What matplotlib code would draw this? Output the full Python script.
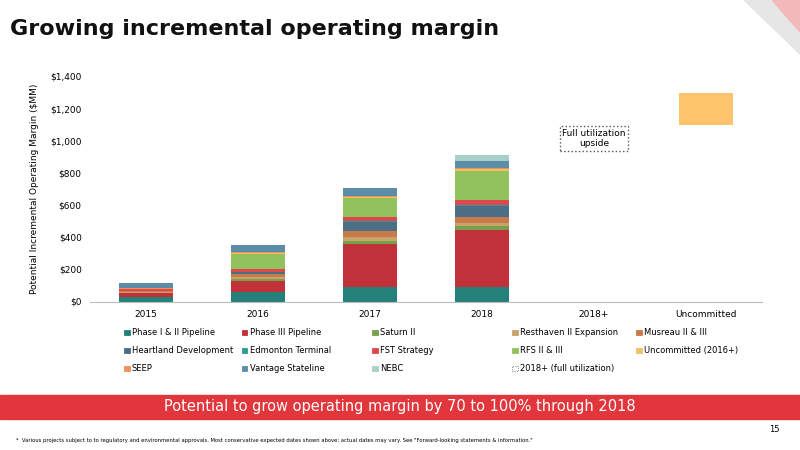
import matplotlib.pyplot as plt
import matplotlib.patches as mpatches
import numpy as np

categories = ['2015', '2016', '2017', '2018', '2018+', 'Uncommitted']
series_names = ['Phase I & II Pipeline', 'Phase III Pipeline', 'Saturn II', 'Resthaven II Expansion',
                'Musreau II & III', 'Heartland Development', 'Edmonton Terminal', 'FST Strategy',
                'RFS II & III', 'Uncommitted (2016+)', 'SEEP', 'Vantage Stateline', 'NEBC']
colors = ['#25807A', '#C0313A', '#76A04A', '#C9A36A', '#C87A4A', '#4A6E85', '#2D9C93',
          '#E0474C', '#92C25E', '#F2C06A', '#F0905A', '#5B8DA8', '#A9CFC8']
# values per series for 2015..2018 ($MM)
values = [
    [29, 62, 91, 91],
    [23, 68, 265, 354],
    [0, 12, 23, 25],
    [6, 12, 25, 21],
    [8, 20, 33, 33],
    [0, 12, 58, 70],
    [0, 0, 8, 6],
    [10, 16, 21, 31],
    [0, 91, 118, 182],
    [4, 8, 8, 10],
    [4, 8, 8, 10],
    [29, 43, 46, 41],
    [0, 0, 4, 35],
]
full_util_low = 1100
full_util_high = 1300

fig = plt.figure(figsize=(8, 4.5), dpi=100)
fig.patch.set_facecolor('white')
ax = fig.add_axes([0.1125, 0.33, 0.84, 0.5])

x = np.arange(len(categories))
bottom = np.zeros(4)
for name, vals, c in zip(series_names, values, colors):
    ax.bar(x[:4], vals, 0.49, bottom=bottom, color=c, label=name)
    bottom += np.array(vals)
ax.bar(x[5], full_util_high - full_util_low, 0.49, bottom=full_util_low, color='#FDC46C')

ax.set_ylim(0, 1400)
ax.set_xlim(-0.5, 5.5)
ax.set_yticks(range(0, 1401, 200))
ax.set_yticklabels([f'${v:,}' for v in range(0, 1401, 200)], fontsize=6.5)
ax.set_xticks(x)
ax.set_xticklabels(categories, fontsize=6.5)
ax.tick_params(length=0, pad=6)
for s in ['top', 'right', 'left']:
    ax.spines[s].set_visible(False)
ax.spines['bottom'].set_color('#BBBBBB')
ax.set_ylabel('Potential Incremental Operating Margin ($MM)', fontsize=6.5, labelpad=8)

ax.text(4.0, 1015, 'Full utilization\nupside', ha='center', va='center', fontsize=6.5,
        bbox=dict(boxstyle='square,pad=0.3', facecolor='white', edgecolor='#555555', linestyle=':'))

# legend, row-major over 5 columns
labels = series_names + ['2018+ (full utilization)']
leg_colors = colors + ['white']
col_x = [0.155, 0.302, 0.465, 0.64, 0.795]
row_y = [0.262, 0.222, 0.182]
for i, (lab, c) in enumerate(zip(labels, leg_colors)):
    cx, ry = col_x[i % 5], row_y[i // 5]
    ls = ':' if c == 'white' else '-'
    ec = '#555555' if c == 'white' else c
    fig.patches.append(mpatches.Rectangle((cx, ry - 0.007), 0.007, 0.012, transform=fig.transFigure,
                                          facecolor=c, edgecolor=ec, linestyle=ls, linewidth=0.6))
    fig.text(cx + 0.01, ry, lab, fontsize=6, ha='left', va='center')

fig.text(0.012, 0.935, 'Growing incremental operating margin', fontsize=16, fontweight='bold',
         ha='left', va='center', color='#111111')
fig.patches.append(mpatches.Rectangle((0, 0.068), 1, 0.055, transform=fig.transFigure, color='#E0363C'))
fig.text(0.5, 0.096, 'Potential to grow operating margin by 70 to 100% through 2018', fontsize=10.5,
         color='white', ha='center', va='center')
fig.text(0.975, 0.045, '15', fontsize=6, ha='right', va='center')
fig.text(0.02, 0.022, '*  Various projects subject to to regulatory and environmental approvals. Most conservative expected dates shown above; actual dates may vary. See "Forward-looking statements & information."',
         fontsize=3.8, ha='left', va='center')

# corner decoration
fig.patches.append(mpatches.Polygon([(0.93, 1), (1, 1), (1, 0.88)], closed=True, transform=fig.transFigure, color='#E6E6E6'))
fig.patches.append(mpatches.Polygon([(0.965, 1), (1, 1), (1, 0.93)], closed=True, transform=fig.transFigure, color='#F2B8BA'))

fig.savefig('out.png', dpi=100)
